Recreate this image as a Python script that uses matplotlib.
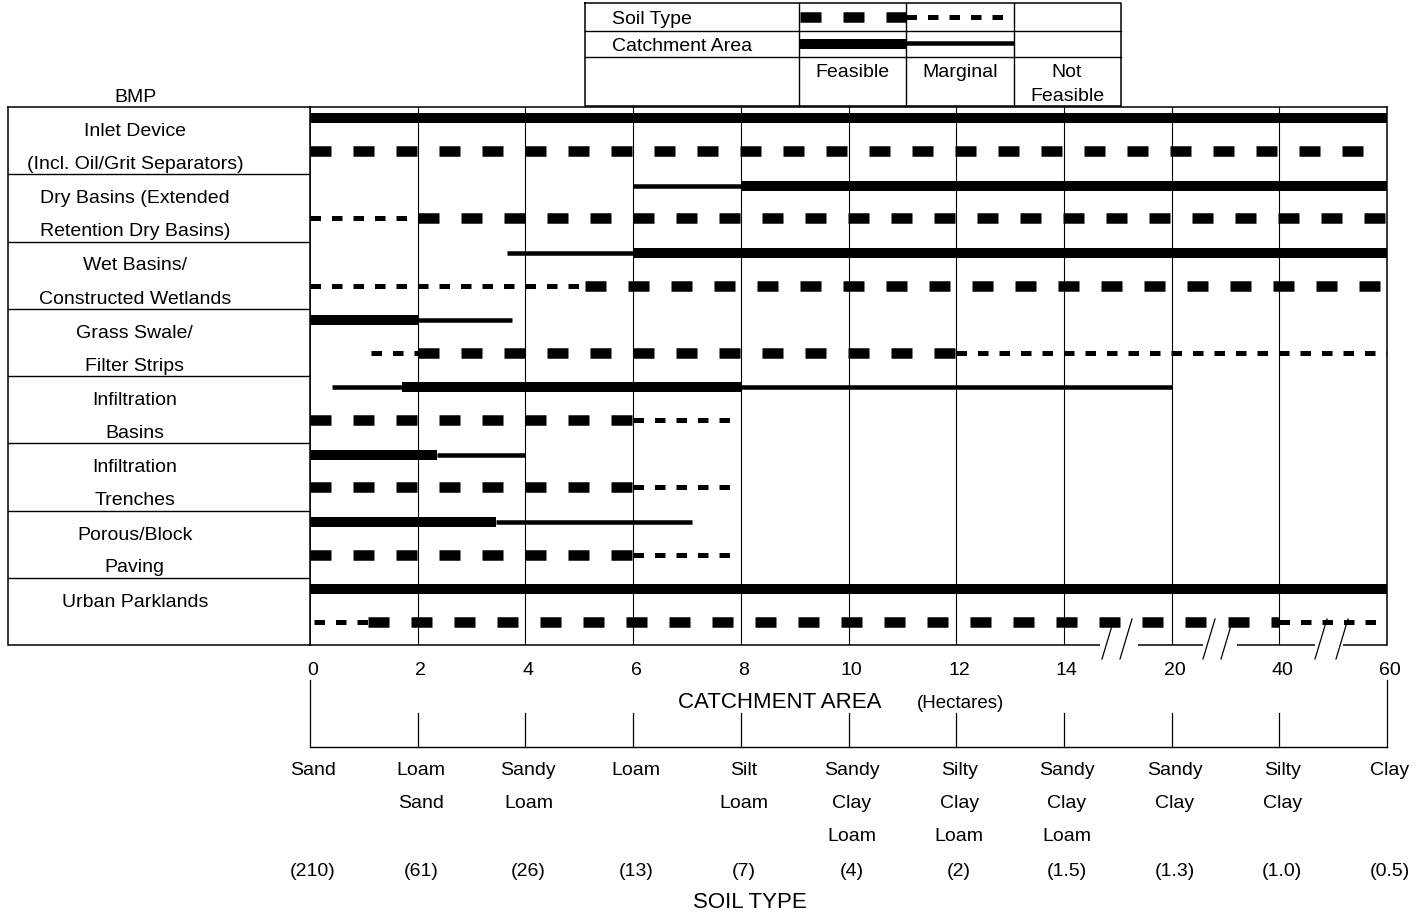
import numpy as np
import matplotlib.pyplot as plt
from matplotlib.transforms import ScaledTranslation

plt.rcParams['font.family'] = ['Liberation Sans', 'DejaVu Sans']
plt.rcParams['lines.scale_dashes'] = False

W, H = 1418, 917

# axis values
catch_ticks = [0, 2, 4, 6, 8, 10, 12, 14, 20, 40, 60]
soil_names = ["Sand", "Loam\nSand", "Sandy\nLoam", "Loam", "Silt\nLoam",
              "Sandy\nClay\nLoam", "Silty\nClay\nLoam", "Sandy\nClay\nLoam",
              "Sandy\nClay", "Silty\nClay", "Clay"]
soil_rates = ["(210)", "(61)", "(26)", "(13)", "(7)", "(4)", "(2)",
              "(1.5)", "(1.3)", "(1.0)", "(0.5)"]

bmp_labels = ["Inlet Device\n(Incl. Oil/Grit Separators)",
              "Dry Basins (Extended\nRetention Dry Basins)",
              "Wet Basins/\nConstructed Wetlands",
              "Grass Swale/\nFilter Strips",
              "Infiltration\nBasins",
              "Infiltration\nTrenches",
              "Porous/Block\nPaving",
              "Urban Parklands"]

# catchment area ranges (hectares)
catch_feasible = [[(0, 60)], [(8, 60)], [(6, 60)], [(0, 2)],
                  [(1.7, 8)], [(0, 2.35)], [(0, 3.45)], [(0, 60)]]
catch_marginal = [[], [(6, 8)], [(3.65, 6)], [(2, 3.75)],
                  [(0.4, 1.7), (8, 20)], [(2.35, 4)], [(3.45, 7.1)], []]

# soil type ranges (index along soil_names, 0 = Sand ... 10 = Clay)
soil_feasible = [[(0, 9.8)], [(1, 10)], [(2.55, 10)], [(1, 6)],
                 [(0, 3)], [(0, 3)], [(0, 3)], [(0.54, 9)]]
soil_marginal = [[], [(0, 1)], [(0, 2.55)], [(0.57, 1), (6, 10)],
                 [(3, 3.95)], [(3, 3.95)], [(3, 3.95)], [(0.04, 0.54), (9, 10)]]

# styles
px = 72 / 100
thick_solid = dict(color='k', lw=10 * px, solid_capstyle='butt')
thin_solid = dict(color='k', lw=4.5 * px, solid_capstyle='butt')
thick_dash = dict(color='k', lw=10.5 * px, dash_capstyle='butt', dashes=(21 * px, 22 * px))
thin_dash = dict(color='k', lw=5 * px, dash_capstyle='butt', dashes=(10.5 * px, 11 * px))
fs = 14
dy = 2.5  # text nudge in pixels

fig = plt.figure(figsize=(W / 100, H / 100), dpi=100)
shift = ScaledTranslation(3 / 100, 0, fig.dpi_scale_trans)

top, bot = 107, 645
left_tab, left_main, right_main = 8, 310, 1387

# main chart
ax = fig.add_axes([left_main / W, (H - bot) / H, (right_main - left_main) / W, (bot - top) / H])
idx = np.arange(len(catch_ticks))
ax.set_xscale('function', functions=(lambda v: np.interp(v, catch_ticks, idx),
                                     lambda v: np.interp(v, idx, catch_ticks)))
ax.set_xlim(0, 60)
ax.set_ylim(len(bmp_labels), 0)
ax.set_xticks(catch_ticks, [str(t) for t in catch_ticks])
ax.tick_params(axis='x', length=0, pad=12, labelsize=fs)
for lab in ax.get_xticklabels():
    lab.set_transform(lab.get_transform() + shift)
ax.set_yticks([])
ax.spines['bottom'].set_visible(False)
for s in ['top', 'left', 'right']:
    ax.spines[s].set_linewidth(1.1)
for t in catch_ticks[1:-1]:
    ax.axvline(t, color='k', lw=0.8)

ax_soil = ax.twiny()
ax_soil.set_xlim(0, len(soil_names) - 1)
ax_soil.axis('off')

y_solid, y_dash = 0.17, 0.655
for i in range(len(bmp_labels)):
    for a, b in catch_marginal[i]:
        ax.plot([a, b], [i + y_solid] * 2, **thin_solid)
    for a, b in catch_feasible[i]:
        ax.plot([a, b], [i + y_solid] * 2, **thick_solid)
    for a, b in soil_marginal[i]:
        ax_soil.plot([a, b], [i + y_dash] * 2, **thin_dash)
    for a, b in soil_feasible[i]:
        ax_soil.plot([a, b], [i + y_dash] * 2, **thick_dash)

# left BMP table
ax_t = fig.add_axes([left_tab / W, (H - bot) / H, (left_main - left_tab) / W, (bot - top) / H])
ax_t.set_xlim(0, 1)
ax_t.set_ylim(len(bmp_labels), 0)
ax_t.set_xticks([])
ax_t.set_yticks([])
for s in ax_t.spines.values():
    s.set_linewidth(1.1)
ax_t.spines['bottom'].set_visible(False)
for i in range(1, len(bmp_labels)):
    ax_t.axhline(i, color='k', lw=1.0)
row_h = (bot - top) / len(bmp_labels)
for i, lab in enumerate(bmp_labels):
    for k, line in enumerate(lab.split("\n")):
        ax_t.text(0.42, i + (22 + 33 * k + dy) / row_h, line, ha='center', va='center', fontsize=fs)

# soil type scale under the chart
ax_s = fig.add_axes([left_main / W, 0, (right_main - left_main) / W, (H - bot) / H])
ax_s.set_xlim(0, len(soil_names) - 1)
ax_s.set_ylim(H, bot)
ax_s.axis('off')
ax_s.plot([0, len(soil_names) - 1], [747, 747], color='k', lw=1.0, clip_on=False)
for i, (name, rate) in enumerate(zip(soil_names, soil_rates)):
    y_start = 680 if i in (0, len(soil_names) - 1) else 713
    ax_s.plot([i, i], [y_start, 747], color='k', lw=0.9, clip_on=False)
    for k, line in enumerate(name.split("\n")):
        t = ax_s.text(i, 768 + 33 * k + dy, line, ha='center', va='center', fontsize=fs, clip_on=False)
        t.set_transform(t.get_transform() + shift)
    t = ax_s.text(i, 869 + dy, rate, ha='center', va='center', fontsize=fs, clip_on=False)
    t.set_transform(t.get_transform() + shift)

# annotation layer in pixel units, on top of the axes
ax_bg = fig.add_axes([0, 0, 1, 1])
ax_bg.set_xlim(0, W)
ax_bg.set_ylim(H, 0)
ax_bg.axis('off')
ax_bg.set_zorder(10)

ax_bg.text(135, 95 + dy, "BMP", ha='center', va='center', fontsize=fs)

# bottom border with axis breaks
for a, b in [(left_tab, 1100), (1138, 1203), (1237, 1315), (1343, right_main)]:
    ax_bg.plot([a, b], [bot, bot], color='k', lw=1.1, solid_capstyle='butt')
for x0 in [1102, 1120, 1203, 1221, 1315, 1336]:
    ax_bg.plot([x0, x0 + 12], [659, 619], color='k', lw=0.9)

ax_bg.text(780, 700 + dy, "CATCHMENT AREA", ha='center', va='center', fontsize=16)
ax_bg.text(961, 701 + dy, "(Hectares)", ha='center', va='center', fontsize=13.5)
ax_bg.text(750, 900 + dy, "SOIL TYPE", ha='center', va='center', fontsize=16)

# legend table
lx0, lx1, ly0, ly1 = 585, 1121, 3, 106
ax_bg.plot([lx0, lx1, lx1, lx0, lx0], [ly0, ly0, ly1, ly1, ly0], color='k', lw=1.1)
for y in [31, 57]:
    ax_bg.plot([lx0, lx1], [y, y], color='k', lw=1.0)
for x in [799, 906, 1014]:
    ax_bg.plot([x, x], [ly0, ly1], color='k', lw=1.0)
ax_bg.plot([800, 906], [17, 17], **thick_dash)
ax_bg.plot([906, 1006], [17, 17], **thin_dash)
ax_bg.plot([800, 906], [44, 44], **thick_solid)
ax_bg.plot([906, 1014], [43, 43], **thin_solid)
ax_bg.text(612, 17 + dy, "Soil Type", ha='left', va='center', fontsize=fs)
ax_bg.text(612, 44 + dy, "Catchment Area", ha='left', va='center', fontsize=fs)
ax_bg.text(852, 70 + dy, "Feasible", ha='center', va='center', fontsize=fs)
ax_bg.text(960, 70 + dy, "Marginal", ha='center', va='center', fontsize=fs)
ax_bg.text(1067, 70 + dy, "Not", ha='center', va='center', fontsize=fs)
ax_bg.text(1067, 94 + dy, "Feasible", ha='center', va='center', fontsize=fs)

fig.savefig("out.png", dpi=100)
